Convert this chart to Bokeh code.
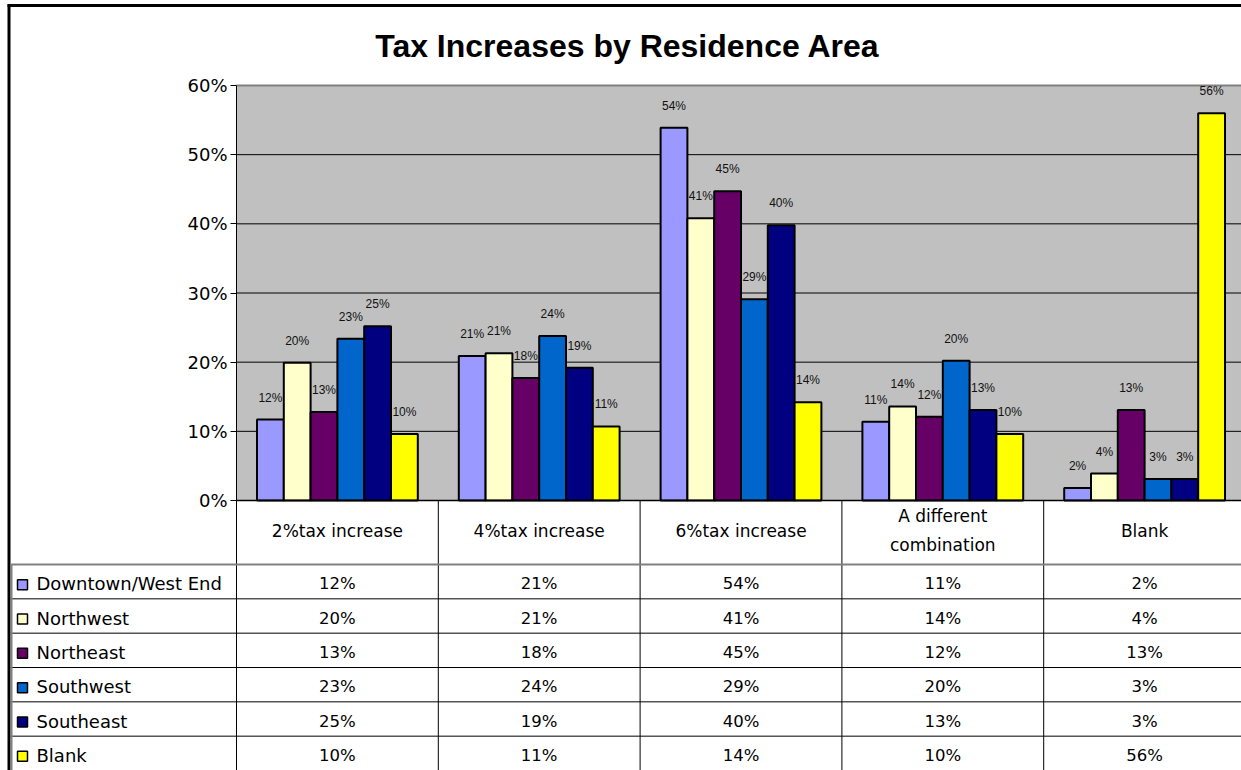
import numpy as np
from bokeh.plotting import figure
from bokeh.models import (Range1d, FixedTicker, NumeralTickFormatter, Label,
                          LinearAxis, ColumnDataSource)
from bokeh.core.properties import value
from bokeh.embed import file_html
from bokeh.resources import INLINE

# ---------------- data ----------------
title = "Tax Increases by Residence Area"
categories = ["2%tax increase", "4%tax increase", "6%tax increase",
              "A different\ncombination", "Blank"]
series = ["Downtown/West End", "Northwest", "Northeast", "Southwest", "Southeast", "Blank"]
colors = ["#9999FF", "#FFFFCC", "#660066", "#0066CC", "#000080", "#FFFF00"]

downtown = [0.117, 0.209, 0.539, 0.114, 0.018]
northwest = [0.199, 0.213, 0.408, 0.136, 0.039]
northeast = [0.128, 0.177, 0.447, 0.121, 0.131]
southwest = [0.234, 0.238, 0.291, 0.202, 0.031]
southeast = [0.252, 0.192, 0.398, 0.131, 0.031]
blank = [0.096, 0.107, 0.142, 0.096, 0.560]
data = [downtown, northwest, northeast, southwest, southeast, blank]

y_ticks = [0, 0.1, 0.2, 0.3, 0.4, 0.5, 0.6]

# ---------------- layout constants (pixels) ----------------
FONT = "Liberation Sans"
TFONT = "DejaVu Sans"
W, H = 1241, 770
PLOT_LEFT = 236      # left edge of plot area
CAT_PX = 201.8       # width of one category column
PLOT_BOTTOM = 500    # 0% line
PLOT_TOP = 85        # 60% line
HEADER_PX = 64       # header row of the data table
ROW_PX = (H - PLOT_BOTTOM - HEADER_PX) / len(series)
BAR_W = 0.1328       # in category units
YMAX = 0.6


def px2x(px):
    return (px - PLOT_LEFT) / CAT_PX


def py2y(py):
    return (PLOT_BOTTOM - py) / (PLOT_BOTTOM - PLOT_TOP) * YMAX


def py2row(py):
    return (py - PLOT_BOTTOM - HEADER_PX) / ROW_PX


def pct(v):
    return f"{round(v * 100)}%"


n_rows = len(series)
n_cats = len(categories)

p = figure(width=W, height=H,
           x_range=Range1d(px2x(0), px2x(W)), y_range=Range1d(py2y(H), py2y(0)),
           min_border=0, x_axis_location=None, y_axis_location=None,
           output_backend="svg", toolbar_location=None,
           background_fill_color="white", border_fill_color="white",
           outline_line_color=None)
p.extra_y_ranges = {"table": Range1d(py2row(H), py2row(0))}
p.xgrid.grid_line_color = None
p.ygrid.grid_line_color = None

# ---------------- plot area ----------------
p.quad(left=[0], right=[n_cats], bottom=[0], top=[YMAX],
       fill_color="#C0C0C0", line_color=None)
grid_vals = y_ticks[1:-1]
p.segment(x0=[0] * len(grid_vals), x1=[n_cats] * len(grid_vals), y0=grid_vals, y1=grid_vals,
          line_color="black", line_width=1)
p.segment(x0=[0], x1=[n_cats], y0=[YMAX], y1=[YMAX], line_color="#808080", line_width=2)

ax = LinearAxis(fixed_location=0, bounds=(0, YMAX))
ax.ticker = FixedTicker(ticks=y_ticks)
ax.formatter = NumeralTickFormatter(format="0%")
ax.major_label_text_font = TFONT
ax.major_label_text_font_size = "18px"
ax.major_label_text_color = "black"
ax.major_tick_out = 6
ax.major_tick_in = 0
ax.minor_tick_out = 0
ax.minor_tick_in = 0
ax.axis_line_color = "black"
ax.major_tick_line_color = "black"
ax.major_label_standoff = 3
p.add_layout(ax, "left")

for j, (vals, col) in enumerate(zip(data, colors)):
    xs = [k + 0.5 + (j - 2.5) * BAR_W for k in range(n_cats)]
    src = ColumnDataSource(dict(x=xs, top=vals, lab=[pct(v) for v in vals]))
    p.vbar(x="x", top="top", bottom=0, width=BAR_W, source=src,
           fill_color=col, line_color="black", line_width=2)
    p.text(x="x", y="top", text="lab", source=src, text_align="center",
           text_baseline="middle", y_offset=-22, text_font_size="12px",
           text_font=value(FONT), text_color="#111111")

p.add_layout(Label(x=px2x(627), y=py2y(45), text=title,
                   text_align="center", text_baseline="alphabetic",
                   text_font=FONT, text_font_size="32px", text_font_style="bold",
                   text_color="black"))

# outer chart border
p.segment(x0=[px2x(8.5)], y0=[py2y(4)], x1=[px2x(8.5)], y1=[py2y(H + 10)],
          line_color="black", line_width=3)
p.segment(x0=[px2x(7)], y0=[py2y(5)], x1=[px2x(W + 10)], y1=[py2y(5)],
          line_color="black", line_width=3)

# ---------------- data table ----------------
top_row = py2row(PLOT_BOTTOM)
# column separators
p.segment(x0=list(range(n_cats + 1)), y0=[top_row] * (n_cats + 1),
          x1=list(range(n_cats + 1)), y1=[n_rows] * (n_cats + 1),
          line_color="black", line_width=1, y_range_name="table")
# row separators
p.segment(x0=[px2x(10)] * (n_rows - 1), y0=list(range(1, n_rows)),
          x1=[px2x(W + 10)] * (n_rows - 1), y1=list(range(1, n_rows)),
          line_color="black", line_width=1, y_range_name="table")
p.segment(x0=[px2x(10)], y0=[0], x1=[px2x(W + 10)], y1=[0],
          line_color="#808080", line_width=2, y_range_name="table")
# category axis line / table top edge
p.segment(x0=[0], y0=[top_row], x1=[n_cats], y1=[top_row], line_color="black",
          line_width=1.5, y_range_name="table")
# table left edge
p.segment(x0=[px2x(11)], y0=[0], x1=[px2x(11)], y1=[n_rows + 1], line_color="#808080",
          line_width=2, y_range_name="table")

# header texts
p.text(x=[k + 0.5 for k in range(n_cats)], y=[top_row / 2] * n_cats, text=categories,
       text_align="center", text_baseline="middle", text_font=value(TFONT),
       text_font_size="17px", text_color="black", text_line_height=1.45, y_offset=-2,
       y_range_name="table")

# legend keys and series names
rows_y = [i + 0.5 for i in range(n_rows)]
key_shift = 3 / ROW_PX
p.scatter(x=[px2x(22)] * n_rows, y=[r + key_shift for r in rows_y], marker="square", size=10,
          fill_color=colors, line_color="black", line_width=1.5, y_range_name="table")
p.text(x=[px2x(36)] * n_rows, y=rows_y, text=series, text_align="left",
       text_baseline="middle", text_font=value(TFONT), text_font_size="18px",
       text_color="black", y_offset=2, y_range_name="table")

# values
vx, vy, vt = [], [], []
for i, vals in enumerate(data):
    for k, v in enumerate(vals):
        vx.append(k + 0.5)
        vy.append(i + 0.5)
        vt.append(pct(v))
p.text(x=vx, y=vy, text=vt, text_align="center", text_baseline="middle",
       text_font=value(TFONT), text_font_size="16.5px", text_color="black", y_offset=2,
       y_range_name="table")

open("out.html", "w").write(file_html(p, INLINE))
